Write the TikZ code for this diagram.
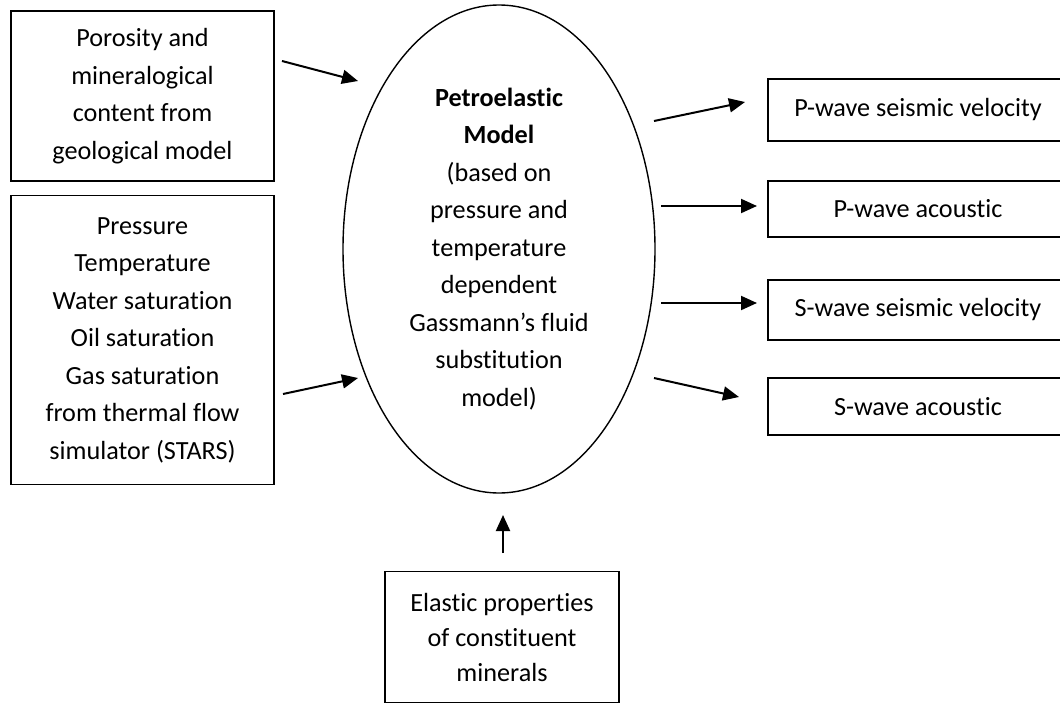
\documentclass[tikz,border=0pt]{standalone}
\usepackage{fontspec}
\setmainfont[Ligatures={NoCommon,NoContextual}]{Carlito}
\usetikzlibrary{arrows.meta,shapes.geometric}
\begin{document}
\begin{tikzpicture}[x=1pt,y=-1pt,
  txt/.style={font=\fontsize{26.2}{37.5}\selectfont, align=center},
  infobox/.style={draw, line width=1.8pt, inner sep=0pt, txt},
  flow/.style={line width=2pt, -{Triangle[length=16pt,width=14pt]}},
]
\useasboundingbox (0,0) rectangle (1060,704);
\clip (0,0) rectangle (1060,704);

% input boxes on the left
\node[infobox, minimum width=263pt, minimum height=170pt] (geo) at (142.5,96)
  {Porosity and\\mineralogical\\content from\\geological model};
\node[infobox, minimum width=263pt, minimum height=289pt] (sim) at (142.5,340)
  {Pressure\\Temperature\\Water saturation\\Oil saturation\\Gas saturation\\from thermal flow\\simulator (STARS)};

% central model
\node[draw, ellipse, line width=1.4pt, inner sep=0pt, txt,
      minimum width=312pt, minimum height=488pt] (pem) at (499,249)
  {{\bfseries Petroelastic}\\{\bfseries Model}\\(based on\\pressure and\\temperature\\dependent\\Gassmann’s fluid\\substitution\\model)};

% output boxes on the right
\node[infobox, minimum width=300pt, minimum height=62pt] (pvel) at (918,110) {P-wave seismic velocity};
\node[infobox, minimum width=300pt, minimum height=56pt] (pac) at (918,209) {P-wave acoustic};
\node[infobox, minimum width=300pt, minimum height=60pt] (svel) at (918,310) {S-wave seismic velocity};
\node[infobox, minimum width=300pt, minimum height=57pt] (sac) at (918,406.5) {S-wave acoustic};

% mineral properties below
\node[infobox, font=\fontsize{26.2}{35}\selectfont, minimum width=234pt, minimum height=131pt] (min) at (502,637)
  {Elastic properties\\of constituent\\minerals};

% arrow end points
\coordinate (geoOut) at (282,61);  \coordinate (pemInA) at (358,81);
\coordinate (simOut) at (283,394); \coordinate (pemInB) at (358,378);
\coordinate (minOut) at (503,553); \coordinate (pemInC) at (503,515);
\coordinate (pemOutA) at (654,121); \coordinate (pvelIn) at (745,102);
\coordinate (pemOutB) at (661,206); \coordinate (pacIn) at (757,206);
\coordinate (pemOutC) at (661,303); \coordinate (svelIn) at (757,303);
\coordinate (pemOutD) at (654,378); \coordinate (sacIn) at (739,397);

\draw[flow] (geoOut) -- (pemInA);
\draw[flow] (simOut) -- (pemInB);
\draw[flow] (minOut) -- (pemInC);
\draw[flow] (pemOutA) -- (pvelIn);
\draw[flow] (pemOutB) -- (pacIn);
\draw[flow] (pemOutC) -- (svelIn);
\draw[flow] (pemOutD) -- (sacIn);
\end{tikzpicture}
\end{document}
